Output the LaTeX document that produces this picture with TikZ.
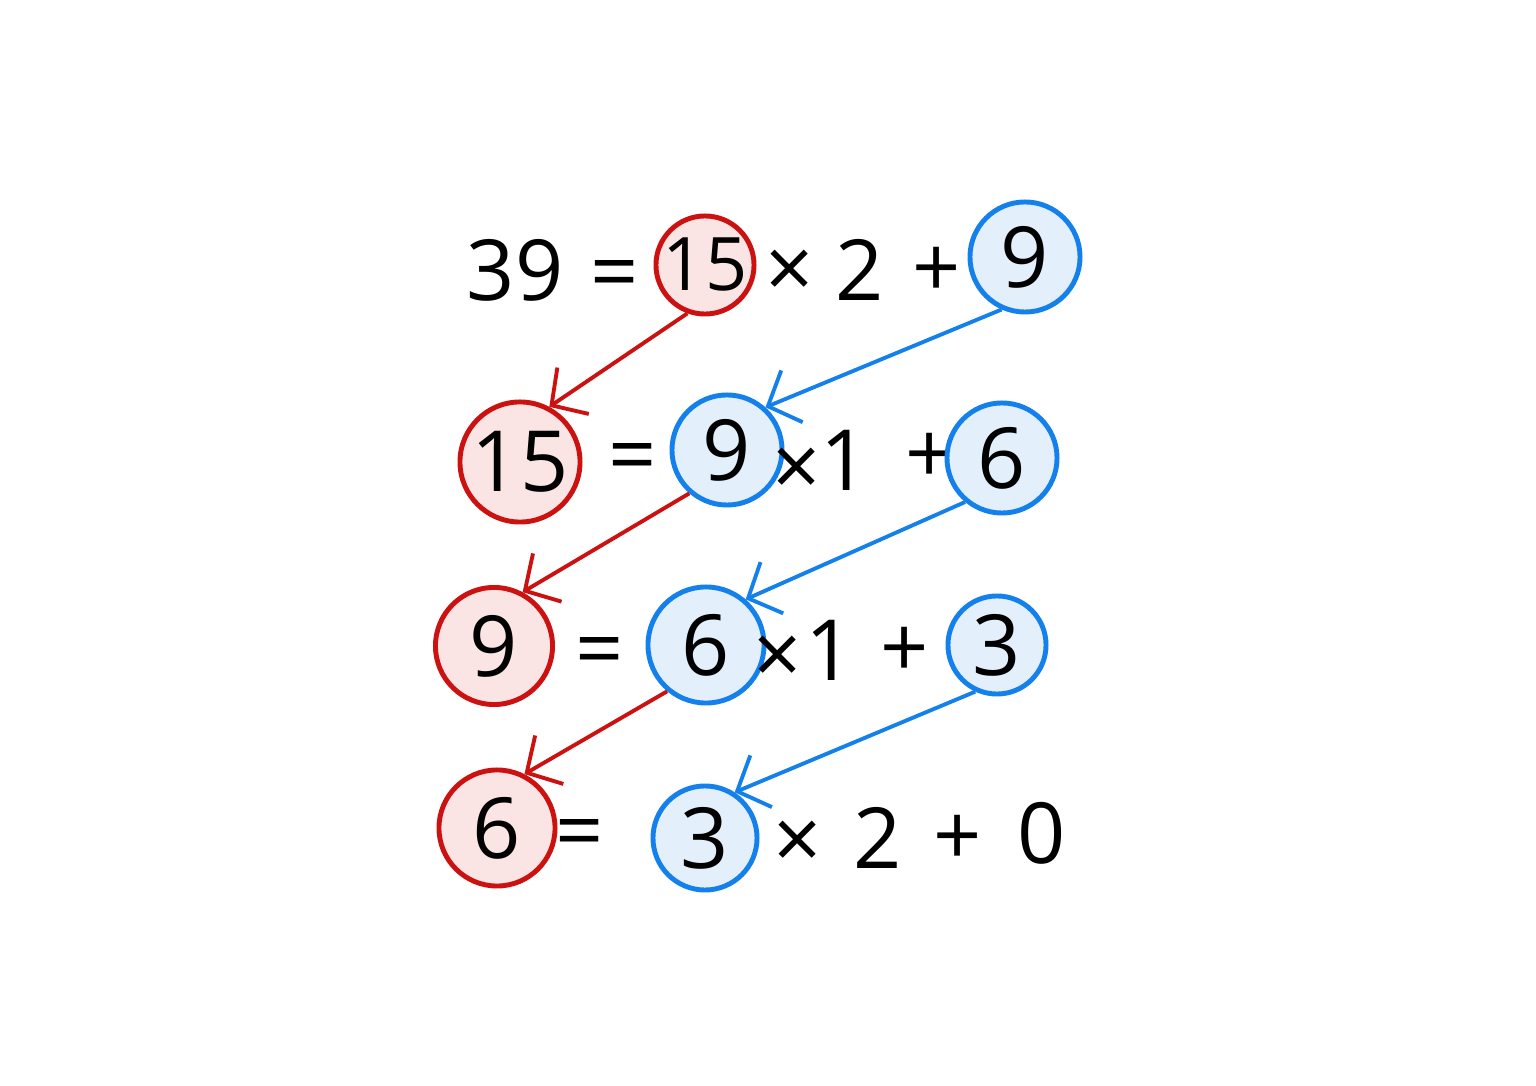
\documentclass[tikz,border=0pt]{standalone}
\usepackage{fontspec}
\setmainfont{Open Sans}
\usetikzlibrary{arrows.meta}

\definecolor{rline}{HTML}{CC1111}
\definecolor{rfill}{HTML}{FBE4E4}
\definecolor{bline}{HTML}{1480EC}
\definecolor{bfill}{HTML}{E3F0FC}

\begin{document}
\begin{tikzpicture}[x=0.01cm, y=-0.01cm,
  every node/.style={font=\fontsize{24}{28}\selectfont, inner sep=0pt},
  redc/.style={circle, draw=rline, fill=rfill, line width=1.4pt, inner sep=-10pt},
  bluec/.style={circle, draw=bline, fill=bfill, line width=1.4pt, inner sep=-10pt},
  redarr/.style={rline, line width=1.1pt, -{Straight Barb[length=2.6mm,width=5.6mm]}},
  bluearr/.style={bline, line width=1.1pt, -{Straight Barb[length=2.6mm,width=5.6mm]}}]

\useasboundingbox (0,0) rectangle (1536,1086);

%row 1: 39 = 15 x 2 + 9
\node (a1) at (515,270) {39};
\node (e1) at (615,281) {=};
\node[redc, minimum size=0.98cm, font=\fontsize{21}{25}\selectfont] (q1) at (705,265) {15};
\node (m1) at (790,274) {×};
\node (k1) at (860,270) {2};
\node (p1) at (937,272) {+};
\node[bluec, minimum size=1.10cm] (r1) at (1025,257) {9};

%row 2: 15 = 9 x 1 + 6
\node[redc, minimum size=1.20cm] (a2) at (520,462) {15};
\node (e2) at (633,464) {=};
\node[bluec, minimum size=1.10cm] (q2) at (727,450) {9};
\node (m2) at (797,472) {×};
\node (k2) at (845,460) {1};
\node (p2) at (930,458) {+};
\node[bluec, minimum size=1.10cm] (r2) at (1002,458) {6};

%row 3: 9 = 6 x 1 + 3
\node[redc, minimum size=1.17cm] (a3) at (494,646) {9};
\node (e3) at (600,658) {=};
\node[bluec, minimum size=1.16cm] (q3) at (706,645) {6};
\node (m3) at (778,660) {×};
\node (k3) at (830,650) {1};
\node (p3) at (905,652) {+};
\node[bluec, minimum size=0.98cm] (r3) at (997,645) {3};

%row 4: 6 = 3 x 2 + 0
\node[redc, minimum size=1.16cm] (a4) at (497,828) {6};
\node (e4) at (580,840) {=};
\node[bluec, minimum size=1.04cm] (q4) at (705,838) {3};
\node (m4) at (798,845) {×};
\node (k4) at (878,838) {2};
\node (p4) at (958,840) {+};
\node (r4) at (1042,833) {0};

%divisor moves down-left, remainder becomes new divisor
\draw[redarr] (q1.250) -- (a2.62);
\draw[bluearr] (r1.246) -- (q2.48);
\draw[redarr] (q2.229) -- (a3.62);
\draw[bluearr] (r2.230) -- (q3.49);
\draw[redarr] (q3.230) -- (a4.63);
\draw[bluearr] (r3.245) -- (q4.57);

\end{tikzpicture}
\end{document}
